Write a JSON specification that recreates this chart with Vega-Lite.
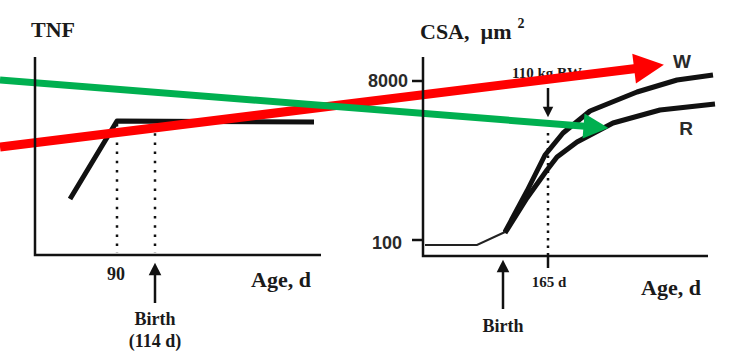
{
  "$schema": "https://vega.github.io/schema/vega-lite/v6.json",
  "width": 731,
  "height": 361,
  "autosize": "none",
  "padding": 0,
  "background": "white",
  "config": {"view": {"stroke": null}},
  "datasets": {
    "axes": [
      {"g": "L", "o": 1, "x": 35, "y": 57}, {"g": "L", "o": 2, "x": 35, "y": 255}, {"g": "L", "o": 3, "x": 321, "y": 255},
      {"g": "R", "o": 1, "x": 423, "y": 57}, {"g": "R", "o": 2, "x": 423, "y": 256}, {"g": "R", "o": 3, "x": 708, "y": 256},
      {"g": "t1", "o": 1, "x": 412, "y": 81}, {"g": "t1", "o": 2, "x": 423, "y": 81},
      {"g": "t2", "o": 1, "x": 412, "y": 240}, {"g": "t2", "o": 2, "x": 423, "y": 240},
      {"g": "t3", "o": 1, "x": 548, "y": 256}, {"g": "t3", "o": 2, "x": 548, "y": 268}
    ],
    "curves": [
      {"g": "TNF", "o": 1, "x": 70, "y": 199}, {"g": "TNF", "o": 2, "x": 117, "y": 121}, {"g": "TNF", "o": 3, "x": 314, "y": 122},
      {"g": "W", "o": 1, "x": 505, "y": 232}, {"g": "W", "o": 2, "x": 527, "y": 191}, {"g": "W", "o": 3, "x": 545, "y": 155}, {"g": "W", "o": 4, "x": 563, "y": 133}, {"g": "W", "o": 5, "x": 590, "y": 111}, {"g": "W", "o": 6, "x": 637, "y": 92}, {"g": "W", "o": 7, "x": 677, "y": 80}, {"g": "W", "o": 8, "x": 713, "y": 75},
      {"g": "R", "o": 1, "x": 505, "y": 233}, {"g": "R", "o": 2, "x": 527, "y": 198}, {"g": "R", "o": 3, "x": 547, "y": 170}, {"g": "R", "o": 4, "x": 557, "y": 157}, {"g": "R", "o": 5, "x": 577, "y": 142}, {"g": "R", "o": 6, "x": 613, "y": 123}, {"g": "R", "o": 7, "x": 660, "y": 110}, {"g": "R", "o": 8, "x": 715, "y": 104}
    ],
    "baseline": [
      {"g": "b", "o": 1, "x": 425, "y": 245}, {"g": "b", "o": 2, "x": 477, "y": 245}, {"g": "b", "o": 3, "x": 505, "y": 232}
    ],
    "dottedLeft": [
      {"g": "d90", "o": 1, "x": 117, "y": 124}, {"g": "d90", "o": 2, "x": 117, "y": 253},
      {"g": "d114", "o": 1, "x": 155, "y": 124}, {"g": "d114", "o": 2, "x": 155, "y": 253}
    ],
    "dottedRight": [
      {"g": "d165", "o": 1, "x": 548, "y": 133}, {"g": "d165", "o": 2, "x": 548, "y": 255}
    ],
    "shafts": [
      {"g": "a1", "o": 1, "x": 155, "y": 303}, {"g": "a1", "o": 2, "x": 155, "y": 272},
      {"g": "a2", "o": 1, "x": 503, "y": 309}, {"g": "a2", "o": 2, "x": 503, "y": 270},
      {"g": "a3", "o": 1, "x": 548, "y": 88}, {"g": "a3", "o": 2, "x": 548, "y": 108}
    ],
    "headsUp": [{"x": 155, "y": 269}, {"x": 503, "y": 266}],
    "headsDown": [{"x": 548, "y": 112}],
    "redShaft": [{"o": 1, "x": 0, "y": 147}, {"o": 2, "x": 640, "y": 68}],
    "redHead": [{"x": 649, "y": 66.7}],
    "greenShaft": [{"o": 1, "x": 0, "y": 80}, {"o": 2, "x": 588, "y": 126.5}],
    "greenHead": [{"x": 596, "y": 127}],
    "titles": [
      {"t": "TNF", "x": 53, "y": 37},
      {"t": "Age, d", "x": 281, "y": 287},
      {"t": "Age, d", "x": 671, "y": 295}
    ],
    "csa": [{"t": "CSA,\u00a0 µm", "x": 420, "y": 39}],
    "sup": [{"t": "2", "x": 521, "y": 28}],
    "mid": [
      {"t": "90", "x": 116, "y": 280},
      {"t": "Birth", "x": 155, "y": 325},
      {"t": "(114 d)", "x": 155, "y": 347},
      {"t": "Birth", "x": 503, "y": 332}
    ],
    "small": [
      {"t": "165 d", "x": 549, "y": 287},
      {"t": "110 kg BW", "x": 547, "y": 78}
    ],
    "ticks": [
      {"t": "8000", "x": 408, "y": 87},
      {"t": "100", "x": 402, "y": 249}
    ],
    "wr": [
      {"t": "W", "x": 682, "y": 68},
      {"t": "R", "x": 686, "y": 135}
    ]
  },
  "encoding": {
    "x": {"field": "x", "type": "quantitative", "scale": {"domain": [0, 731], "nice": false, "zero": false}, "axis": null},
    "y": {"field": "y", "type": "quantitative", "scale": {"domain": [0, 361], "nice": false, "zero": false, "reverse": true}, "axis": null}
  },
  "layer": [
    {"data": {"name": "curves"}, "mark": {"type": "line", "color": "#111111", "strokeWidth": 5, "strokeJoin": "round"}, "encoding": {"detail": {"field": "g"}, "order": {"field": "o"}}},
    {"data": {"name": "baseline"}, "mark": {"type": "line", "color": "#222222", "strokeWidth": 2}, "encoding": {"detail": {"field": "g"}, "order": {"field": "o"}}},
    {"data": {"name": "dottedLeft"}, "mark": {"type": "line", "color": "#111111", "strokeWidth": 2.5, "strokeDash": [2.5, 6.7]}, "encoding": {"detail": {"field": "g"}, "order": {"field": "o"}}},
    {"data": {"name": "dottedRight"}, "mark": {"type": "line", "color": "#111111", "strokeWidth": 2.5, "strokeDash": [2.5, 5]}, "encoding": {"detail": {"field": "g"}, "order": {"field": "o"}}},
    {"data": {"name": "shafts"}, "mark": {"type": "line", "color": "#111111", "strokeWidth": 2.5}, "encoding": {"detail": {"field": "g"}, "order": {"field": "o"}}},
    {"data": {"name": "headsUp"}, "mark": {"type": "point", "shape": "M 0 -1 L 1 1 L -1 1 Z", "filled": true, "opacity": 1, "color": "#111111", "size": 160, "strokeWidth": 0}},
    {"data": {"name": "headsDown"}, "mark": {"type": "point", "shape": "M 0 1 L 1 -1 L -1 -1 Z", "filled": true, "opacity": 1, "color": "#111111", "size": 110, "strokeWidth": 0}},
    {"data": {"name": "titles"}, "mark": {"type": "text", "font": "Liberation Serif", "fontWeight": "bold", "fontSize": 22, "align": "center", "baseline": "alphabetic", "color": "#1a1a1a"}, "encoding": {"text": {"field": "t"}}},
    {"data": {"name": "csa"}, "mark": {"type": "text", "font": "Liberation Serif", "fontWeight": "bold", "fontSize": 22, "align": "left", "baseline": "alphabetic", "color": "#1a1a1a"}, "encoding": {"text": {"field": "t"}}},
    {"data": {"name": "sup"}, "mark": {"type": "text", "font": "Liberation Serif", "fontWeight": "bold", "fontSize": 14, "align": "center", "baseline": "alphabetic", "color": "#1a1a1a"}, "encoding": {"text": {"field": "t"}}},
    {"data": {"name": "mid"}, "mark": {"type": "text", "font": "Liberation Serif", "fontWeight": "bold", "fontSize": 18, "align": "center", "baseline": "alphabetic", "color": "#1a1a1a"}, "encoding": {"text": {"field": "t"}}},
    {"data": {"name": "small"}, "mark": {"type": "text", "font": "Liberation Serif", "fontWeight": "bold", "fontSize": 15, "align": "center", "baseline": "alphabetic", "color": "#1a1a1a"}, "encoding": {"text": {"field": "t"}}},
    {"data": {"name": "ticks"}, "mark": {"type": "text", "font": "Liberation Sans", "fontWeight": "bold", "fontSize": 18, "align": "right", "baseline": "alphabetic", "color": "#2a2a2a"}, "encoding": {"text": {"field": "t"}}},
    {"data": {"name": "wr"}, "mark": {"type": "text", "font": "Liberation Sans", "fontWeight": "bold", "fontSize": 19, "align": "center", "baseline": "alphabetic", "color": "#2a2a2a"}, "encoding": {"text": {"field": "t"}}},
    {"data": {"name": "redShaft"}, "mark": {"type": "line", "color": "#FF0000", "strokeWidth": 9}, "encoding": {"order": {"field": "o"}}},
    {"data": {"name": "redHead"}, "mark": {"type": "point", "shape": "M 1 0 L -1 -1 L -1 1 Z", "filled": true, "opacity": 1, "color": "#FF0000", "size": 900, "strokeWidth": 0, "angle": -7}},
    {"data": {"name": "greenShaft"}, "mark": {"type": "line", "color": "#00B050", "strokeWidth": 7}, "encoding": {"order": {"field": "o"}}},
    {"data": {"name": "greenHead"}, "mark": {"type": "point", "shape": "M 1 0 L -1 -1 L -1 1 Z", "filled": true, "opacity": 1, "color": "#00B050", "size": 625, "strokeWidth": 0, "angle": 4.5}},
    {"data": {"name": "axes"}, "mark": {"type": "line", "color": "#111111", "strokeWidth": 2.5}, "encoding": {"detail": {"field": "g"}, "order": {"field": "o"}}}
  ]
}
